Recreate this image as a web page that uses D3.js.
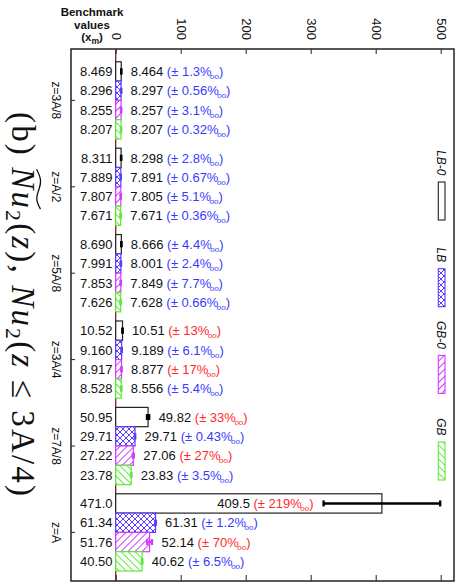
<!DOCTYPE html>
<html><head><meta charset="utf-8">
<script src="https://cdn.jsdelivr.net/npm/d3@7"></script>
<style>
html,body{margin:0;padding:0;background:#fff;}
svg{display:block;font-family:"Liberation Sans",Arial,Helvetica,sans-serif;}
text{white-space:pre;}
</style></head>
<body>
<svg id="c" width="464" height="586"></svg>
<script>
// ---------- data ----------
const groups = ["z=3A/8","z=A/2","z=5A/8","z=3A/4","z=7A/8","z=A"];
const series = ["LB-0","LB","GB-0","GB"];
// benchmark values x_m
const benchLB0 = [8.469, 8.311, 8.690, 10.52, 50.95, 471.0];
const benchLB  = [8.296, 7.889, 7.991, 9.160, 29.71, 61.34];
const benchGB0 = [8.255, 7.807, 7.853, 8.917, 27.22, 51.76];
const benchGB  = [8.207, 7.671, 7.626, 8.528, 23.78, 40.50];
// computed values
const valLB0 = [8.464, 8.298, 8.666, 10.51, 49.82, 409.5];
const valLB  = [8.297, 7.891, 8.001, 9.189, 29.71, 61.31];
const valGB0 = [8.257, 7.805, 7.849, 8.877, 27.06, 52.14];
const valGB  = [8.207, 7.671, 7.628, 8.556, 23.83, 40.62];
// relative uncertainty (per mille)
const pmLB0 = [1.3, 2.8, 4.4, 13, 33, 219];
const pmLB  = [0.56, 0.67, 2.4, 6.1, 0.43, 1.2];
const pmGB0 = [3.1, 5.1, 7.7, 17, 27, 70];
const pmGB  = [0.32, 0.36, 0.66, 5.4, 3.5, 6.5];
const xTicks = [0,100,200,300,400,500];

const bench = [benchLB0, benchLB, benchGB0, benchGB];
const vals  = [valLB0, valLB, valGB0, valGB];
const pms   = [pmLB0, pmLB, pmGB0, pmGB];

// ---------- layout ----------
const svg = d3.select("#c");
const frame = {l:71, r:454, t:49, b:581};
const x = d3.scaleLinear().domain([0,520]).range([115.7, 453.7]);
const yG = d3.scaleBand().domain(groups).range([57.2, 575.6]).paddingInner(0.106).paddingOuter(0.053);
const yS = d3.scaleBand().domain(series).range([0, yG.bandwidth()]);

const colors = {"LB-0":"#222222","LB":"#5a3cff","GB-0":"#d23cff","GB":"#5fe83a"};
const errCol = {"LB-0":"#000000","LB":"#5a3cff","GB-0":"#d23cff","GB":"#5fe83a"};
const fills = {"LB-0":"#ffffff","LB":"url(#pLB)","GB-0":"url(#pGB0)","GB":"url(#pGB)"};

// patterns
const defs = svg.append("defs");
const p1 = defs.append("pattern").attr("id","pLB").attr("patternUnits","userSpaceOnUse")
  .attr("width",6).attr("height",6);
p1.append("rect").attr("width",6).attr("height",6).attr("fill","#fff");
p1.append("path").attr("d","M0,0L6,6M6,0L0,6M-1,5L1,7M5,-1L7,1M-1,1L1,-1M5,7L7,5")
  .attr("stroke",colors.LB).attr("stroke-width",1);
function hatch(id, col, ang){
  const p = defs.append("pattern").attr("id",id).attr("patternUnits","userSpaceOnUse")
    .attr("width",5).attr("height",5).attr("patternTransform",`rotate(${ang})`);
  p.append("rect").attr("width",5).attr("height",5).attr("fill","#fff");
  p.append("line").attr("x1",0.5).attr("y1",0).attr("x2",0.5).attr("y2",5)
    .attr("stroke",col).attr("stroke-width",1);
}
hatch("pGB0", colors["GB-0"], 45);
hatch("pGB", colors.GB, -45);

// ---------- title ----------
const tg = svg.append("g").attr("transform","translate(12,112) rotate(90)");
const title = tg.append("text").attr("x",0).attr("y",0)
  .style("font-family",'"Liberation Serif","Times New Roman",serif').style("font-size","33px").attr("fill","#111");
title.append("tspan").text("(b) ");
title.append("tspan").style("font-style","italic").text("Nu");
title.append("tspan").style("font-size","22px").attr("dy",6).text("2");
title.append("tspan").attr("dy",-6).text("(");
title.append("tspan").style("font-style","italic").text("z");
title.append("tspan").text("), ");
title.append("tspan").style("font-style","italic").text("Nu");
title.append("tspan").style("font-size","22px").attr("dy",6).text("2");
title.append("tspan").attr("dy",-6).text("(");
title.append("tspan").style("font-style","italic").text("z");
title.append("tspan").text(" \u2264 3A/4)");
{
  const node = title.node();
  const n = node.getNumberOfChars();
  const len = node.getComputedTextLength();
  const target = 386;
  title.style("letter-spacing", Math.max(0,(target-len)/n) + "px");
  // tilde over the first "Nu" (chars 4,5)
  const e1 = node.getExtentOfChar(4), e2 = node.getExtentOfChar(5);
  const a = e1.x + 2, b = e2.x + e2.width - 1;
  const yy = -26, w = b - a;
  tg.append("path")
    .attr("d",`M${a},${yy+1.5} C${a+w*0.25},${yy-4} ${a+w*0.35},${yy-3} ${a+w*0.5},${yy-1} S${a+w*0.75},${yy+3.5} ${b},${yy-2.5}`)
    .attr("fill","none").attr("stroke","#111").attr("stroke-width",1.3);
}

// ---------- header ----------
const hdr = svg.append("g").style("font-weight","bold").style("font-size","11.5px").attr("text-anchor","middle").attr("fill","#111");
hdr.append("text").attr("x",92).attr("y",16).text("Benchmark");
hdr.append("text").attr("x",92).attr("y",28.5).text("values");
const xm = hdr.append("text").attr("x",92).attr("y",41);
xm.append("tspan").text("(x");
xm.append("tspan").style("font-size","8.5px").attr("dy",2.5).text("m");
xm.append("tspan").attr("dy",-2.5).text(")");

// ---------- axes ----------
const topAx = svg.append("g").attr("transform",`translate(0,${frame.t})`)
  .call(d3.axisTop(x).tickValues(xTicks).tickSize(-5).tickFormat(d3.format("d")));
topAx.select(".domain").remove();
topAx.selectAll(".tick line").attr("stroke","#222");
topAx.selectAll(".tick text")
  .attr("transform","rotate(90)").attr("x",-9).attr("y",0).attr("dy","0.35em")
  .attr("text-anchor","end").style("font-size","13px").style("font-family",'"Liberation Sans",Arial,sans-serif').attr("fill","#111");

const botAx = svg.append("g").attr("transform",`translate(0,${frame.b})`)
  .call(d3.axisBottom(x).tickValues(xTicks).tickSize(-6).tickFormat(""));
botAx.select(".domain").remove();
botAx.selectAll(".tick line").attr("stroke","#222");

const leftAx = svg.append("g").attr("transform",`translate(${frame.l},0)`)
  .call(d3.axisRight(yG).tickSize(4).tickFormat(""));
leftAx.select(".domain").remove();
leftAx.selectAll(".tick line").attr("stroke","#222");

// group labels
svg.append("g").selectAll("text").data(groups).join("text")
  .attr("transform", d => `translate(56,${yG(d)+yG.bandwidth()/2}) rotate(90)`)
  .attr("text-anchor","middle").attr("dy","0.35em").style("font-size","12px").attr("fill","#111")
  .text(d => d);

// ---------- rows ----------
const rows = [];
groups.forEach((g,gi) => series.forEach((s,si) => {
  rows.push({g, s, bench: bench[si][gi], v: vals[si][gi], pm: pms[si][gi]});
}));
const f4 = d3.format(".4g");
const rowY = d => yG(d.g) + yS(d.s);
const rh = yS.bandwidth();

// zero line
svg.append("line").attr("x1",x(0)).attr("x2",x(0)).attr("y1",frame.t).attr("y2",frame.b)
  .attr("stroke","#7a2222").attr("stroke-width",1.3);

// bars
svg.append("g").selectAll("rect").data(rows).join("rect")
  .attr("x", x(0)).attr("y", d => rowY(d)).attr("width", d => x(d.v)-x(0)).attr("height", rh)
  .attr("fill", d => fills[d.s]).attr("stroke", d => colors[d.s]).attr("stroke-width",1.2);

// error bars
const eb = svg.append("g").selectAll("g").data(rows).join("g")
  .attr("stroke", d => errCol[d.s]).attr("stroke-width",2.4);
eb.append("line").attr("x1", d => x(d.v - d.v*d.pm/1000)).attr("x2", d => x(d.v + d.v*d.pm/1000))
  .attr("y1", d => rowY(d)+rh/2).attr("y2", d => rowY(d)+rh/2);
eb.append("line").attr("x1", d => x(d.v - d.v*d.pm/1000)).attr("x2", d => x(d.v - d.v*d.pm/1000))
  .attr("y1", d => rowY(d)+rh/2-3).attr("y2", d => rowY(d)+rh/2+3);
eb.append("line").attr("x1", d => x(d.v + d.v*d.pm/1000)).attr("x2", d => x(d.v + d.v*d.pm/1000))
  .attr("y1", d => rowY(d)+rh/2-3).attr("y2", d => rowY(d)+rh/2+3);

// benchmark labels
svg.append("g").selectAll("text").data(rows).join("text")
  .attr("x",112.5).attr("y", d => rowY(d)+rh/2).attr("dy","0.36em").attr("text-anchor","end")
  .style("font-size","13px").attr("fill","#111").text(d => f4(d.bench));

// value labels
const vl = svg.append("g").selectAll("text").data(rows).join("text")
  .attr("x", d => x(d.v + d.v*d.pm/1000) + 9.5).attr("y", d => rowY(d)+rh/2).attr("dy","0.36em")
  .style("font-size","13px").attr("fill","#111");
vl.append("tspan").text(d => f4(d.v) + " ");
vl.append("tspan").attr("fill", d => d.pm >= 10 ? "#ff2a2a" : "#3a3aff").text(d => "(\u00b1 " + d.pm + "%");
vl.append("tspan").attr("fill", d => d.pm >= 10 ? "#ff2a2a" : "#3a3aff")
  .style("font-size","8px").style("font-style","italic").attr("dx",-1.5).attr("dy",3).text("oo");
vl.append("tspan").attr("fill", d => d.pm >= 10 ? "#ff2a2a" : "#3a3aff").attr("dy",-3).text(")");
vl.each(function(d){
  const w = this.getComputedTextLength();
  const x0 = x(d.v + d.v*d.pm/1000) + 9.5;
  if (x0 + w > frame.r - 3) {
    d3.select(this).attr("text-anchor","end").attr("x", x(d.v - d.v*d.pm/1000) - 10);
  }
});

// ---------- legend ----------
const legEnds = [220, 306.7, 393.4, 480];
const lg = svg.append("g");
series.forEach((s,i) => {
  const e = legEnds[i];
  lg.append("rect").attr("x",438.3).attr("y",e-38).attr("width",6.7).attr("height",38)
    .attr("fill",fills[s]).attr("stroke",colors[s]).attr("stroke-width",1.1);
  lg.append("text").attr("transform",`translate(441.6,${e-38-6.5}) rotate(90)`)
    .attr("text-anchor","end").attr("dy","0.35em").style("font-size","12px").style("font-style","italic")
    .attr("fill","#111").text(s);
});

// ---------- frame ----------
svg.append("rect").attr("x",frame.l).attr("y",frame.t).attr("width",frame.r-frame.l).attr("height",frame.b-frame.t)
  .attr("fill","none").attr("stroke","#222").attr("stroke-width",1.5);
</script>
</body></html>
